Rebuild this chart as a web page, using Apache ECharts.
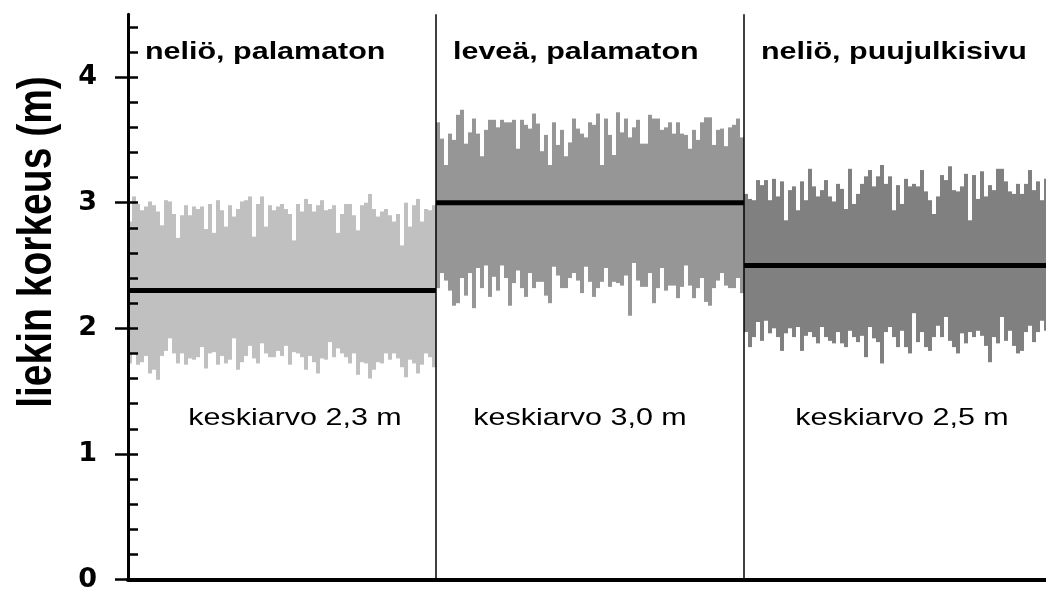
<!DOCTYPE html>
<html>
<head>
<meta charset="utf-8">
<script src="https://cdn.jsdelivr.net/npm/echarts@6/dist/echarts.min.js"></script>
<style>
  html, body { margin: 0; padding: 0; background: #ffffff; }
  #chart { width: 1046px; height: 594px; }
</style>
</head>
<body>
<div id="chart"></div>
<script>
// Three test set-ups, one panel each
const panelTitles = ['neliö, palamaton', 'leveä, palamaton', 'neliö, puujulkisivu'];
const panelColors = ['#c0c0c0', '#969696', '#808080'];
// Mean flame height of each test (m)
const meanHeights = [2.3, 3.0, 2.5];
// Y axis tick labels (m)
const yTickValues = [0, 1, 2, 3, 4];

// Flame height envelope per test: lower and upper values of each time slice (m)
const lower1 = [1.72,1.80,1.71,1.73,1.78,1.64,1.67,1.59,1.78,1.82,
                1.92,1.80,1.72,1.80,1.71,1.76,1.75,1.77,1.85,1.68,
                1.80,1.81,1.71,1.78,1.72,1.75,1.92,1.67,1.73,1.78,
                1.86,1.76,1.72,1.88,1.80,1.77,1.77,1.82,1.78,1.86,
                1.71,1.81,1.80,1.77,1.67,1.78,1.73,1.64,1.76,1.75,
                1.89,1.77,1.84,1.80,1.77,1.72,1.80,1.63,1.73,1.72,
                1.60,1.67,1.73,1.72,1.80,1.75,1.80,1.76,1.69,1.61,
                1.75,1.72,1.64,1.71,1.80,1.77,1.69];
const upper1 = [2.85,3.05,2.99,2.94,2.97,3.01,2.98,2.93,2.82,3.02,
                3.01,2.91,2.72,2.90,2.98,2.90,2.97,2.95,2.97,2.79,
                2.99,2.76,3.02,2.94,2.81,2.98,2.89,2.95,3.01,3.02,
                3.05,2.73,2.99,3.05,2.81,2.98,2.94,2.97,2.99,2.95,
                2.91,2.70,2.99,2.93,3.03,2.99,2.93,2.98,3.02,2.94,
                2.95,2.98,2.76,2.91,2.99,2.99,2.90,2.78,2.98,3.00,
                3.07,2.95,2.89,2.93,2.95,2.90,2.85,2.91,2.66,3.00,
                2.81,2.98,3.03,2.85,2.95,2.94,2.98];
const lower2 = [2.32,2.44,2.38,2.30,2.18,2.20,2.40,2.26,2.44,2.16,
                2.48,2.32,2.50,2.25,2.41,2.30,2.50,2.40,2.18,2.36,
                2.46,2.32,2.25,2.44,2.32,2.37,2.37,2.26,2.20,2.49,
                2.42,2.32,2.32,2.40,2.44,2.38,2.28,2.49,2.37,2.25,
                2.32,2.37,2.48,2.33,2.37,2.36,2.34,2.42,2.10,2.52,
                2.38,2.33,2.33,2.44,2.20,2.32,2.48,2.30,2.34,2.34,
                2.24,2.33,2.50,2.34,2.24,2.32,2.40,2.21,2.18,2.32,
                2.38,2.44,2.34,2.32,2.32,2.40,2.28];
const upper2 = [3.64,3.51,3.30,3.55,3.50,3.70,3.74,3.47,3.56,3.67,
                3.55,3.37,3.58,3.66,3.66,3.60,3.66,3.64,3.64,3.66,
                3.43,3.66,3.62,3.59,3.71,3.63,3.41,3.54,3.30,3.64,
                3.46,3.58,3.37,3.48,3.67,3.59,3.55,3.52,3.64,3.62,
                3.71,3.30,3.67,3.54,3.38,3.72,3.56,3.67,3.52,3.60,
                3.66,3.47,3.47,3.70,3.67,3.67,3.58,3.60,3.64,3.55,
                3.64,3.55,3.54,3.43,3.58,3.50,3.64,3.68,3.68,3.46,
                3.58,3.59,3.45,3.60,3.62,3.67,3.52];
const lower3 = [1.97,1.85,1.93,2.05,1.90,2.06,1.96,2.00,1.93,1.82,
                1.96,2.00,1.93,2.01,1.82,1.94,1.97,1.93,1.88,2.01,
                1.93,1.90,1.88,1.97,1.88,1.85,1.98,1.93,1.89,1.94,
                1.77,2.01,1.92,1.89,1.72,1.97,2.01,1.93,1.85,1.98,
                1.85,1.80,2.12,1.89,1.97,1.85,1.82,1.93,2.02,1.93,
                2.09,1.90,1.85,1.80,1.96,1.88,1.97,1.93,1.98,1.94,
                1.86,1.73,1.93,1.88,2.09,1.90,1.98,1.86,1.80,1.82,
                1.97,2.02,1.89,1.97,2.06,1.98,1.92];
const upper3 = [3.07,3.03,3.02,3.18,3.14,3.18,3.02,3.19,3.05,3.17,
                2.86,3.10,3.13,2.94,3.17,3.02,3.27,3.13,3.05,3.10,
                3.18,3.05,3.01,3.15,3.11,2.95,3.27,2.99,3.07,3.15,
                3.21,3.26,3.13,3.21,3.30,3.15,3.21,2.94,3.14,2.99,
                3.19,3.13,3.15,3.13,3.26,3.09,3.02,2.91,3.05,3.22,
                3.18,3.29,3.10,3.09,3.13,3.23,2.86,3.22,3.03,3.25,
                3.05,3.14,3.10,3.27,3.27,3.17,3.09,3.07,3.15,3.07,
                3.15,3.26,3.10,3.17,3.02,3.19,3.12];

const envelopes = [[lower1, upper1], [lower2, upper2], [lower3, upper3]];
const Y_MAX = 4.5;
const MEAN_LABEL_LEVEL = 1.285;         // height where the mean text sits
const MEAN_LABEL_SHIFT = [13, -10, 4];  // px nudge of each mean text from panel centre
const TEXT_STRETCH = 1.27;              // wide lettering

// minor ticks every 0.2 m
const minorTickValues = [];
for (let k = 0; k <= 22; k++) minorTickValues.push(Math.round(k * 2) / 10);

function meanLabel(v) {
  return 'keskiarvo ' + v.toFixed(1).replace('.', ',') + ' m';
}

function envelopeData(p) {
  const lo = envelopes[p][0], hi = envelopes[p][1];
  const n = lo.length;
  return lo.map((l, j) => [p + j / n, l, hi[j], 1 / n]);
}

function renderSlice(params, api) {
  const x0 = api.value(0);
  const w = api.value(3);
  const a = api.coord([x0, api.value(2)]);
  const b = api.coord([x0 + w, api.value(1)]);
  return {
    type: 'rect',
    shape: { x: a[0], y: a[1], width: b[0] - a[0], height: b[1] - a[1] },
    style: { fill: api.visual('color') }
  };
}

function renderMean(params, api) {
  const p = api.value(0), m = api.value(1);
  const a = api.coord([p, m]);
  const b = api.coord([p + 1, m]);
  return {
    type: 'line',
    shape: { x1: a[0], y1: a[1], x2: b[0], y2: b[1] },
    style: { stroke: '#000', lineWidth: 5 }
  };
}

function renderDivider(params, api) {
  const x = api.value(0);
  const a = api.coord([x, 0]);
  const b = api.coord([x, Y_MAX]);
  return {
    type: 'line',
    shape: { x1: a[0], y1: a[1], x2: b[0], y2: b[1] },
    style: { stroke: '#000', lineWidth: 1.5 }
  };
}

function renderTexts(params, api) {
  const p = api.value(0);
  const top = api.coord([p, Y_MAX]);
  const mid = api.coord([p + 0.5, MEAN_LABEL_LEVEL]);
  return {
    type: 'group',
    children: [
      {
        type: 'text', x: top[0] + 17, y: top[1] + 38, scaleX: TEXT_STRETCH,
        style: {
          text: panelTitles[p], fontFamily: 'Liberation Sans', fontWeight: 'bold',
          fontSize: 24, fill: '#000', align: 'left', verticalAlign: 'middle'
        }
      },
      {
        type: 'text', x: mid[0] + MEAN_LABEL_SHIFT[p], y: mid[1], scaleX: TEXT_STRETCH,
        style: {
          text: meanLabel(meanHeights[p]), fontFamily: 'Liberation Sans',
          fontSize: 24, fill: '#000', align: 'center', verticalAlign: 'middle'
        }
      }
    ]
  };
}

const chart = echarts.init(document.getElementById('chart'), null, { renderer: 'canvas' });

const bandSeries = [0, 1, 2].map(p => ({
  type: 'custom',
  name: panelTitles[p],
  renderItem: renderSlice,
  data: envelopeData(p),
  encode: { x: 0, y: [1, 2] },
  itemStyle: { color: panelColors[p] },
  silent: true,
  z: 2
}));

chart.setOption({
  animation: false,
  backgroundColor: '#ffffff',
  grid: {
    left: 128, right: -6, top: 14.3, bottom: 14.5,
    containLabel: false, outerBoundsMode: 'none'
  },
  xAxis: [
    {
      type: 'value', min: 0, max: 3, position: 'bottom', z: 6,
      axisLine: { show: true, lineStyle: { color: '#000', width: 4 } },
      axisTick: { show: false }, axisLabel: { show: false }, splitLine: { show: false }
    },
    {
      type: 'value', min: 0, max: 3, position: 'top', z: 6,
      axisLine: { show: true, lineStyle: { color: '#000', width: 3 } },
      axisTick: { show: false }, axisLabel: { show: false }, splitLine: { show: false }
    }
  ],
  yAxis: [
    {
      type: 'value', min: 0, max: Y_MAX, position: 'left', z: 6,
      axisLine: { show: true, onZero: false, lineStyle: { color: '#000', width: 3 } },
      axisTick: { show: true, inside: false, length: 13, customValues: yTickValues,
                  lineStyle: { color: '#000', width: 2.5 } },
      axisLabel: {
        show: true, customValues: yTickValues, margin: 31,
        fontFamily: 'DejaVu Sans', fontWeight: 'bold', fontSize: 27, color: '#000'
      },
      splitLine: { show: false }
    },
    {
      type: 'value', min: 0, max: Y_MAX, position: 'left', z: 6,
      axisLine: { show: false, onZero: false },
      axisTick: { show: true, inside: true, length: 10, customValues: minorTickValues,
                  lineStyle: { color: '#000', width: 2.5 } },
      axisLabel: { show: false },
      splitLine: { show: false }
    }
  ],
  graphic: [{
    type: 'text', x: 38, y: 242, rotation: Math.PI / 2, scaleY: 1.25,
    style: {
      text: 'liekin korkeus (m)', fontFamily: 'Liberation Sans', fontWeight: 'bold',
      fontSize: 39, fill: '#000', align: 'center', verticalAlign: 'middle'
    }
  }],
  series: bandSeries.concat([
    {
      type: 'custom', name: 'keskiarvo', renderItem: renderMean, silent: true, z: 3,
      data: meanHeights.map((m, p) => [p, m]), encode: { x: 0, y: 1 }
    },
    {
      type: 'custom', name: 'rajat', renderItem: renderDivider, silent: true, z: 4,
      data: [[1], [2]], encode: { x: 0 }
    },
    {
      type: 'custom', name: 'tekstit', renderItem: renderTexts, silent: true, z: 5,
      data: [[0], [1], [2]], encode: { x: 0 }
    }
  ])
});
</script>
</body>
</html>
